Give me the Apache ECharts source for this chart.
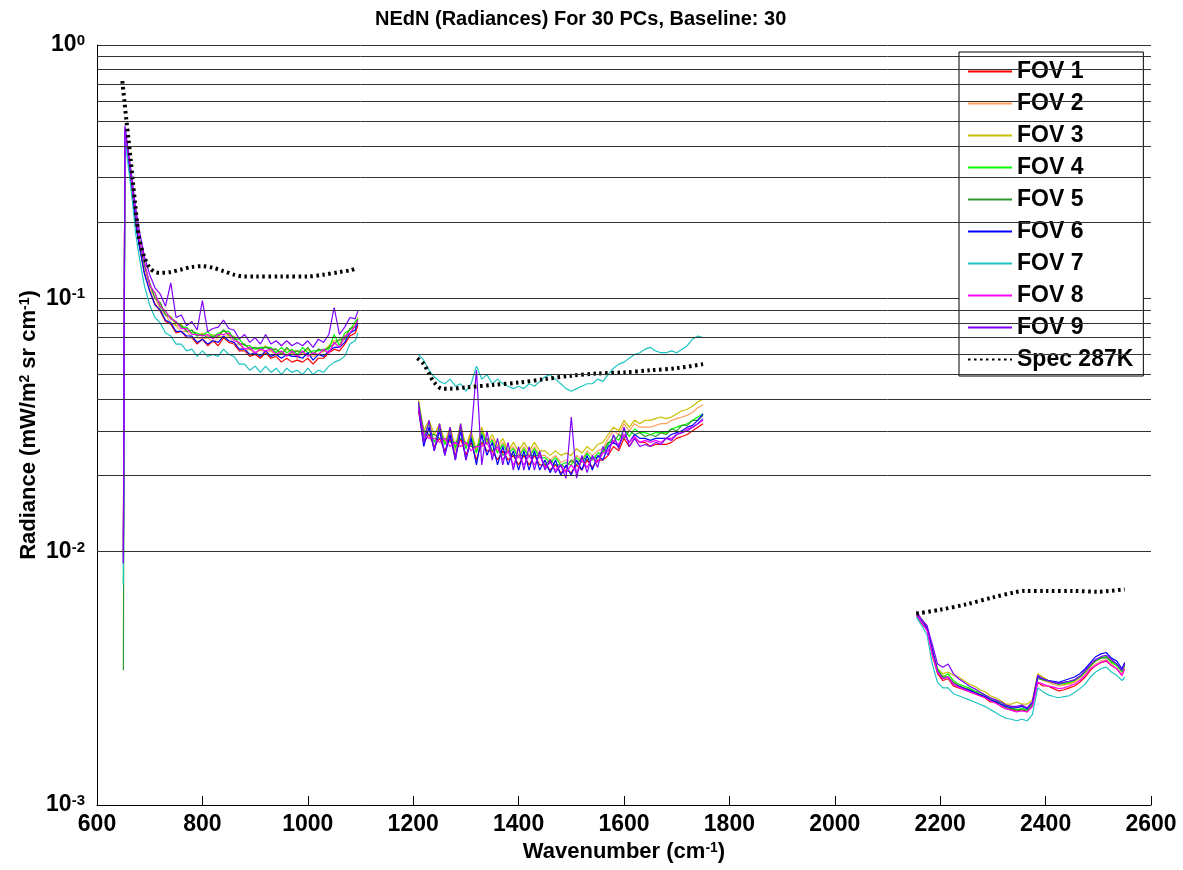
<!DOCTYPE html>
<html>
<head>
<meta charset="utf-8">
<title>NEdN (Radiances) For 30 PCs, Baseline: 30</title>
<script src="https://cdn.jsdelivr.net/npm/echarts@6/dist/echarts.min.js"></script>
<style>
    html, body { margin: 0; padding: 0; background: #fff; }
    #chart { width: 1183px; height: 870px; }
</style>
</head>
<body>
<div id="chart"></div>
<script>
// wavenumber grids of the three bands (cm-1)
const wnA = [650, 653, 658, 663, 668, 673, 680, 690, 700, 710,
    720, 730, 740, 750, 760, 770, 780, 790, 800, 810,
    820, 830, 840, 850, 860, 870, 880, 890, 900, 910,
    920, 930, 940, 950, 960, 970, 980, 990, 1000, 1010,
    1020, 1030, 1040, 1050, 1060, 1070, 1080, 1090, 1095];
const wnB = [1210, 1220, 1230, 1240, 1250, 1260, 1270, 1280, 1290, 1300, 1310,
    1320, 1330, 1340, 1350, 1360, 1370, 1380, 1390, 1400, 1410, 1420,
    1430, 1440, 1450, 1460, 1470, 1480, 1490, 1500, 1510, 1520, 1530,
    1540, 1550, 1560, 1570, 1580, 1590, 1600, 1610, 1620, 1630, 1640,
    1650, 1660, 1670, 1680, 1690, 1700, 1710, 1720, 1730, 1740, 1750];
const wnC = [2155, 2165, 2175, 2185, 2195, 2205, 2215, 2225, 2235, 2245, 2255,
    2265, 2275, 2285, 2295, 2305, 2315, 2325, 2335, 2345, 2355, 2365,
    2375, 2385, 2395, 2405, 2415, 2425, 2435, 2445, 2455, 2465, 2475,
    2485, 2495, 2505, 2515, 2525, 2535, 2545, 2550];

// NEdN per FOV, in 1e-3 mW/m2 sr cm-1
const fovA = [
    [9.5, 450, 372, 300, 252, 200, 163, 126, 107, 95, 89, 81, 79, 73, 74, 70, 70, 66, 69, 65,
        68, 65, 70, 67, 66, 62, 62, 59, 60, 58, 61, 58, 59, 56, 58, 56, 57, 56, 58, 55,
        58, 58, 61, 63, 62, 66, 71, 73, 78],
    [11, 455, 380, 318, 256, 214, 166, 135, 109, 101, 90, 86, 80, 78, 74, 74, 70, 70, 69, 70,
        67, 70, 71, 71, 66, 66, 62, 63, 60, 63, 61, 62, 59, 61, 60, 61, 58, 61, 60, 59,
        60, 62, 61, 67, 64, 70, 72, 78, 80],
    [10, 462, 385, 322, 264, 216, 174, 135, 115, 100, 96, 86, 85, 78, 79, 74, 75, 71, 73, 71,
        72, 70, 75, 71, 71, 66, 66, 63, 64, 62, 65, 62, 63, 61, 63, 62, 62, 61, 63, 60,
        63, 62, 65, 68, 68, 70, 76, 78, 84],
    [7.4, 458, 383, 325, 263, 218, 172, 138, 112, 105, 92, 89, 83, 81, 77, 77, 73, 73, 71, 74,
        70, 73, 74, 74, 69, 69, 65, 65, 63, 64, 64, 64, 61, 64, 61, 63, 60, 64, 61, 62,
        62, 63, 63, 72, 65, 73, 75, 81, 83],
    [3.4, 452, 378, 318, 264, 212, 173, 135, 115, 100, 96, 86, 84, 80, 78, 74, 75, 71, 72, 70,
        71, 71, 75, 72, 70, 66, 66, 63, 64, 63, 64, 63, 63, 60, 64, 61, 62, 61, 64, 60,
        63, 62, 64, 66, 69, 69, 76, 77, 83],
    [9, 448, 372, 308, 254, 203, 162, 125, 107, 94, 90, 82, 80, 74, 74, 71, 71, 67, 69, 66,
        68, 67, 71, 68, 67, 63, 63, 60, 61, 59, 62, 59, 60, 58, 60, 59, 59, 58, 61, 57,
        60, 59, 62, 64, 64, 67, 73, 75, 80],
    [7.4, 440, 350, 288, 232, 183, 146, 112, 94, 84, 80, 73, 71, 66, 66, 62, 63, 59, 62, 59,
        60, 59, 63, 60, 59, 55, 55, 52, 54, 51, 54, 51, 53, 50, 53, 51, 52, 50, 53, 50,
        52, 51, 54, 56, 57, 59, 66, 68, 73],
    [10, 470, 388, 326, 263, 222, 171, 140, 113, 105, 93, 89, 83, 81, 76, 76, 72, 72, 71, 72,
        69, 72, 72, 73, 68, 67, 63, 64, 61, 63, 62, 63, 60, 62, 59, 62, 59, 62, 59, 61,
        60, 63, 61, 67, 64, 71, 73, 78, 82],
    [9, 480, 402, 338, 282, 230, 187, 146, 124, 110, 104, 93, 115, 84, 86, 78, 81, 75, 98, 74,
        76, 77, 82, 76, 75, 69, 72, 67, 70, 66, 72, 66, 68, 65, 68, 65, 67, 65, 68, 64,
        69, 67, 72, 92, 72, 77, 84, 83, 89],
];
const fovB = [
    [36, 27, 29, 26, 28, 25, 28, 24, 28, 24, 27, 23, 27, 25, 25, 23, 25, 23, 24, 22, 24, 22,
        24, 22, 22, 21, 22, 20.5, 21, 20.5, 22, 21, 23, 21.5, 23, 23, 24, 26, 25, 28, 26, 28, 27, 27,
        26, 26.5, 26.5, 26.5, 27, 28, 28.5, 29, 30, 31, 32],
    [39, 29, 32, 27, 31, 27, 30, 25, 31, 26, 29, 25, 30, 27, 28, 25, 27, 25, 26, 24, 26, 24,
        26, 24, 24, 23, 24, 22.5, 23, 22.5, 24, 23, 25, 24, 25, 25.5, 28, 30, 29, 32, 30, 32, 31, 31,
        31, 31.5, 32, 32, 33, 33.5, 34, 34.5, 35.5, 37, 38],
    [40, 30, 33, 29, 32, 27, 31, 26, 32, 26, 30, 25, 31, 27, 29, 26, 28, 25, 27, 25, 27, 25,
        27, 25, 25, 24, 25, 24, 24.5, 24, 25.5, 24.5, 26, 25, 26.5, 27, 29, 31, 30, 33, 31, 33, 32, 33,
        33, 33.5, 34, 33.5, 34, 35, 36, 36.5, 37.5, 39, 40],
    [39, 28.5, 32, 27, 30.5, 26.5, 29.5, 25.5, 30.5, 25.5, 28.5, 24.5, 29.5, 26.5, 27.5, 24.5, 26.5, 24.5, 25.5, 23.5, 25.5, 23.5,
        25.5, 23.5, 23.5, 22.5, 23.5, 22, 22.5, 22, 23.5, 22.5, 24.5, 23, 24.5, 24.5, 26.5, 28.5, 27.5, 30.5, 28.5, 30.5, 29.5, 29.5,
        29, 29.5, 29.5, 29.5, 30.5, 31, 31.5, 32, 33, 34, 35],
    [38, 30, 29, 29, 28, 28, 27, 27, 28, 27, 26, 26, 27, 28, 25, 26, 24, 25, 24, 24, 24, 24,
        24, 24, 22, 23, 22, 22, 21.5, 23, 22, 23.5, 23, 23.5, 23.5, 25, 27, 27, 29, 28, 30, 29, 29.5, 28.5,
        29, 28.5, 29.5, 29, 30.5, 30, 31.5, 31.5, 33, 33, 34.5],
    [37, 26, 31, 25, 30, 24, 29, 23, 30, 23, 28, 22, 29, 24, 27, 22, 26, 22, 25, 21, 25, 21,
        25, 21, 23, 20.5, 23, 20, 22, 20, 23, 21, 24, 21, 24, 23, 26, 27, 26, 29, 27, 29, 28, 28,
        27.5, 28, 28, 28, 29, 29.5, 30, 31, 31.5, 33, 35],
    [60, 57, 52, 49, 47, 46, 48, 45, 46, 43, 46, 54, 48, 50, 46, 48, 46, 45, 44, 45, 44, 46,
        45, 47, 49, 50, 48, 46, 44, 43, 44, 45, 46, 46, 48, 47, 50, 53, 55, 56, 58, 60, 61, 63,
        64, 62, 61, 61, 62, 61, 63, 65, 69, 71, 70],
    [37, 29, 28, 28, 27, 28, 26, 27, 26, 27, 25, 26, 26, 27, 24, 26, 23, 25, 22, 24, 22, 24,
        22, 24, 21.5, 22.5, 21, 22, 20.5, 22, 20.5, 23, 21.5, 23.5, 22.5, 24.5, 25, 27.5, 26.5, 29, 27, 28.5, 27, 27.5,
        27, 27.5, 27, 28, 28, 29, 29.5, 30.5, 31, 32, 33],
    [39, 27, 33, 25, 32, 24, 31, 23, 32, 23, 29, 52, 22, 30, 23, 28, 22, 27, 21, 26, 21, 26,
        21, 25, 21, 23, 20.5, 22, 19.5, 34, 19.5, 24, 20.5, 24, 21.5, 26, 24, 29, 25.5, 31, 26, 28, 26, 26.5,
        26, 27, 26.5, 28, 27.5, 29, 29.5, 30, 31, 32, 33.5],
];
const fovC = [
    [5.6, 5.2, 4.9, 3.9, 3.3, 3.1, 3.15, 2.95, 2.9, 2.85, 2.8, 2.75, 2.7, 2.65, 2.55, 2.55, 2.45, 2.4, 2.38, 2.35, 2.38, 2.33,
        2.45, 3.05, 2.95, 2.95, 2.88, 2.82, 2.85, 2.9, 2.95, 3.05, 3.2, 3.4, 3.55, 3.65, 3.7, 3.55, 3.45, 3.25, 3.45],
    [5.7, 5.3, 5.0, 4.0, 3.35, 3.25, 3.2, 3.05, 3.0, 2.9, 2.88, 2.8, 2.78, 2.72, 2.65, 2.6, 2.55, 2.5, 2.45, 2.42, 2.45, 2.4,
        2.5, 3.2, 3.1, 3.05, 3.0, 2.95, 2.98, 3.0, 3.05, 3.15, 3.3, 3.5, 3.6, 3.7, 3.75, 3.6, 3.45, 3.3, 3.45],
    [5.8, 5.4, 5.1, 4.1, 3.45, 3.3, 3.35, 3.25, 3.2, 3.1, 3.0, 2.95, 2.85, 2.8, 2.7, 2.65, 2.58, 2.5, 2.5, 2.55, 2.5, 2.5,
        2.6, 3.3, 3.2, 3.1, 3.05, 3.0, 3.0, 3.02, 3.08, 3.2, 3.35, 3.55, 3.7, 3.8, 3.85, 3.7, 3.55, 3.35, 3.55],
    [5.7, 5.3, 5.0, 4.0, 3.45, 3.2, 3.3, 3.1, 3.0, 2.95, 2.9, 2.82, 2.78, 2.72, 2.62, 2.58, 2.52, 2.45, 2.42, 2.38, 2.4, 2.38,
        2.52, 3.2, 3.15, 3.1, 3.05, 3.0, 3.02, 3.05, 3.1, 3.2, 3.35, 3.55, 3.7, 3.8, 3.85, 3.65, 3.55, 3.35, 3.55],
    [5.6, 5.25, 4.95, 4.05, 3.4, 3.2, 3.2, 3.05, 2.95, 2.9, 2.85, 2.8, 2.74, 2.68, 2.6, 2.56, 2.5, 2.42, 2.4, 2.37, 2.38, 2.36,
        2.48, 3.15, 3.12, 3.08, 3.04, 3.0, 3.05, 3.08, 3.12, 3.22, 3.36, 3.55, 3.72, 3.8, 3.82, 3.7, 3.6, 3.4, 3.6],
    [5.7, 5.3, 5.0, 4.1, 3.35, 3.15, 3.2, 3.0, 2.95, 2.88, 2.84, 2.78, 2.72, 2.68, 2.6, 2.56, 2.5, 2.45, 2.42, 2.42, 2.45, 2.4,
        2.55, 3.2, 3.15, 3.1, 3.08, 3.05, 3.1, 3.15, 3.2, 3.3, 3.45, 3.65, 3.85, 3.95, 4.0, 3.8, 3.7, 3.45, 3.65],
    [5.5, 5.1, 4.7, 3.6, 3.05, 2.9, 2.9, 2.75, 2.7, 2.65, 2.6, 2.55, 2.5, 2.45, 2.38, 2.32, 2.25, 2.2, 2.18, 2.15, 2.18, 2.15,
        2.28, 2.9, 2.8, 2.72, 2.68, 2.65, 2.68, 2.7, 2.78, 2.88, 3.0, 3.2, 3.35, 3.45, 3.5, 3.35, 3.25, 3.1, 3.2],
    [5.65, 5.25, 4.9, 3.95, 3.35, 3.15, 3.2, 3.0, 2.92, 2.86, 2.8, 2.76, 2.7, 2.65, 2.58, 2.52, 2.46, 2.4, 2.36, 2.33, 2.35, 2.33,
        2.45, 3.05, 3.0, 2.95, 2.92, 2.88, 2.9, 2.95, 3.0, 3.1, 3.25, 3.45, 3.55, 3.65, 3.72, 3.55, 3.45, 3.25, 3.45],
    [5.8, 5.4, 5.1, 4.3, 3.6, 3.5, 3.6, 3.3, 3.15, 3.05, 2.95, 2.88, 2.8, 2.72, 2.65, 2.6, 2.55, 2.48, 2.45, 2.45, 2.48, 2.42,
        2.55, 3.25, 3.15, 3.1, 3.05, 3.02, 3.05, 3.08, 3.12, 3.22, 3.4, 3.6, 3.75, 3.85, 3.9, 3.75, 3.6, 3.4, 3.6],
];

// Spec 287K, same units
const specWnA = [648, 652, 656, 660, 664, 668, 672, 676, 680, 690, 700, 710, 720, 740, 760, 780, 800, 820, 840, 860,
    880, 900, 950, 1000, 1030, 1060, 1080, 1095];
const specA = [720, 600, 500, 420, 350, 290, 240, 200, 172, 145, 132, 127, 126, 127, 130, 133, 134, 132, 128, 124,
    122, 122, 122, 122, 124, 127, 129, 132];
const specWnB = [1208, 1220, 1230, 1240, 1255, 1270, 1300, 1350, 1400, 1450, 1500, 1550, 1600, 1650, 1700, 1750];
const specB = [58, 55, 50.5, 46.5, 44, 44, 44.5, 45.5, 46.5, 48, 49.5, 50.5, 51, 52, 53, 55];
const specWnC = [2155, 2200, 2250, 2300, 2340, 2360, 2400, 2450, 2500, 2550];
const specC = [5.7, 5.9, 6.2, 6.6, 6.9, 7.0, 7.0, 7.0, 6.95, 7.1];

const fovNames = ["FOV 1", "FOV 2", "FOV 3", "FOV 4", "FOV 5", "FOV 6", "FOV 7", "FOV 8", "FOV 9"];
const fovColors = ["#ff0000", "#ffa060", "#c8c000", "#00ff00", "#2e9a2e", "#0000ff", "#1cc4c4", "#ff00ff", "#7f00ff"];
const specName = "Spec 287K";

// minor grid lines of the log axis
const minorTicks = [0.002, 0.003, 0.004, 0.005, 0.006, 0.007, 0.008, 0.009,
    0.02, 0.03, 0.04, 0.05, 0.06, 0.07, 0.08, 0.09,
    0.2, 0.3, 0.4, 0.5, 0.6, 0.7, 0.8, 0.9];

const toPoints = (wn, vals) => wn.map((w, i) => [w, vals[i] / 1000]);

const boldText = { fontFamily: "Liberation Sans", fontWeight: "bold", color: "#000" };

// axis titles with a superscript
const nameRich = {
    a: { ...boldText, fontSize: 22, lineHeight: 22, padding: [6, 0, 0, 0], verticalAlign: "bottom" },
    s: { ...boldText, fontSize: 14, lineHeight: 14, verticalAlign: "top" },
};

const series = [
    {
        type: "line",
        data: [],
        silent: true,
        markLine: {
            silent: true,
            symbol: ["none", "none"],
            label: { show: false },
            lineStyle: { color: "#333", type: "solid", width: 1 },
            data: minorTicks.map((v) => ({ yAxis: v })),
        },
    },
];

fovNames.forEach((name, k) => {
    [[wnA, fovA[k]], [wnB, fovB[k]], [wnC, fovC[k]]].forEach(([wn, vals]) => {
        series.push({
            name: name,
            type: "line",
            data: toPoints(wn, vals),
            symbol: "none",
            color: fovColors[k],
            lineStyle: { width: 1.2, color: fovColors[k] },
        });
    });
});

[[specWnA, specA], [specWnB, specB], [specWnC, specC]].forEach(([wn, vals]) => {
    series.push({
        name: specName,
        type: "line",
        data: toPoints(wn, vals),
        symbol: "none",
        smooth: 0.3,
        color: "#000",
        lineStyle: { width: 4, color: "#000", type: [2.5, 3.5], cap: "butt" },
    });
});

const chart = echarts.init(document.getElementById("chart"));

chart.setOption({
    animation: false,
    title: {
        text: "NEdN (Radiances) For 30 PCs, Baseline: 30",
        left: 370,
        top: 4,
        textStyle: { ...boldText, fontSize: 20 },
    },
    grid: { left: 97, right: 32, top: 45, bottom: 65, outerBoundsMode: "none", containLabel: false },
    legend: {
        data: [...fovNames, specName],
        orient: "vertical",
        left: 959,
        top: 52,
        padding: [8, 10, 5, 8],
        itemWidth: 44,
        itemHeight: 12,
        itemGap: 9,
        itemStyle: { opacity: 0 },
        backgroundColor: "#fff",
        borderColor: "#000",
        borderWidth: 1,
        borderRadius: 0,
        textStyle: { ...boldText, fontSize: 23, lineHeight: 23 },
    },
    xAxis: {
        type: "value",
        min: 600,
        max: 2600,
        interval: 200,
        name: "{a|Wavenumber (cm}{s|-1}{a|)}",
        nameLocation: "middle",
        nameGap: 36,
        nameMoveOverlap: false,
        nameTextStyle: { rich: nameRich },
        axisLine: { lineStyle: { color: "#000", width: 1 } },
        axisTick: { inside: true, length: 9, lineStyle: { color: "#000" } },
        axisLabel: { margin: 8, ...boldText, fontSize: 23, formatter: (v) => String(v) },
        splitLine: { show: false },
    },
    yAxis: {
        type: "log",
        logBase: 10,
        min: 0.001,
        max: 1,
        name: "{a|Radiance (mW/m}{s|2}{a| sr cm}{s|-1}{a|)}",
        nameLocation: "middle",
        nameGap: 57,
        nameMoveOverlap: false,
        nameTextStyle: { rich: nameRich },
        axisLine: { show: true, lineStyle: { color: "#000", width: 1 } },
        axisTick: { show: false },
        axisLabel: {
            margin: 12,
            formatter: (v) => "{b|10}{s|" + Math.round(Math.log10(v)) + "}",
            rich: {
                b: { ...boldText, fontSize: 23, lineHeight: 23, padding: [9, 0, 0, 0], verticalAlign: "bottom" },
                s: { ...boldText, fontSize: 15, lineHeight: 15, verticalAlign: "top" },
            },
        },
        splitLine: { show: true, lineStyle: { color: "#333", width: 1 } },
    },
    series: series,
});
</script>
</body>
</html>
